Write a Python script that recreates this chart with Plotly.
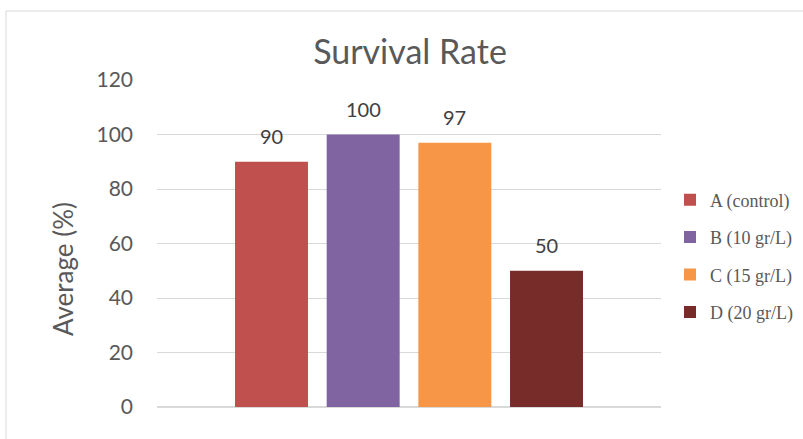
import plotly.graph_objects as go

# Survival rate per treatment group
groups = ["A (control)", "B (10 gr/L)", "C (15 gr/L)", "D (20 gr/L)"]
survival = [90, 100, 97, 50]
colors = ["#C0504D", "#8064A2", "#F79646", "#772C2A"]
y_ticks = [0, 20, 40, 60, 80, 100, 120]

W, H = 803, 439
L, R, T, B = 157, 142, 80, 32
pw, ph = W - L - R, H - T - B
SANS = "Lato, Open Sans, sans-serif"

fig = go.Figure()
for g, v, c in zip(groups, survival, colors):
    fig.add_trace(go.Bar(
        x=[g], y=[v], name=g, marker=dict(color=c, line=dict(width=0)),
        legendgroup=g, hoverinfo="x+y",
    ))

# value labels above each bar
for g, v in zip(groups, survival):
    fig.add_annotation(
        x=g, y=v, text=str(v), showarrow=False, yanchor="bottom", yshift=12,
        font=dict(family=SANS, size=20, color="#404040"),
    )

# y-axis title
fig.add_annotation(
    xref="paper", yref="paper", x=(63 - L) / pw, y=(H - B - 269) / ph,
    text="Average (%)", textangle=-90, showarrow=False,
    xanchor="center", yanchor="middle",
    font=dict(family=SANS, size=26, color="#595959"),
)

# chart frame
fig.add_shape(
    type="rect", xref="paper", yref="paper",
    x0=(6 - L) / pw, x1=(W + 5 - L) / pw,
    y0=(H - B - (H + 5)) / ph, y1=(H - B - 11) / ph,
    line=dict(color="#D9D9D9", width=1), fillcolor="rgba(0,0,0,0)", layer="below",
)

n = len(groups)
span = pw / 91.67
fig.update_layout(
    width=W, height=H,
    margin=dict(l=L, r=R, t=T, b=B, autoexpand=False),
    paper_bgcolor="white", plot_bgcolor="white",
    bargap=0.204,
    title=dict(
        text="Survival Rate", x=410 / W, xanchor="center",
        y=1 - 52 / H, yanchor="middle",
        font=dict(family=SANS, size=34, color="#595959"),
    ),
    xaxis=dict(
        type="category", categoryorder="array", categoryarray=groups,
        range=[(n - 1) / 2 - span / 2, (n - 1) / 2 + span / 2],
        showticklabels=False, showgrid=False, zeroline=False,
        showline=False, ticks="",
    ),
    yaxis=dict(
        range=[0, 120], tickvals=y_ticks, showgrid=True,
        gridcolor="#D9D9D9", gridwidth=1, zeroline=True,
        zerolinecolor="#D9D9D9", zerolinewidth=1.5, showline=False,
        ticks="", ticklabelstandoff=23,
        tickfont=dict(family=SANS, size=21, color="#595959"),
    ),
    legend=dict(
        x=(670 - L) / pw, xanchor="left", y=(H - B - 256) / ph, yanchor="middle",
        font=dict(family="Liberation Serif, Times New Roman, serif", size=18, color="#595959"),
        tracegroupgap=11, itemwidth=30, bgcolor="rgba(0,0,0,0)",
        traceorder="grouped",
    ),
    showlegend=True,
)

fig.write_html("out.html")
